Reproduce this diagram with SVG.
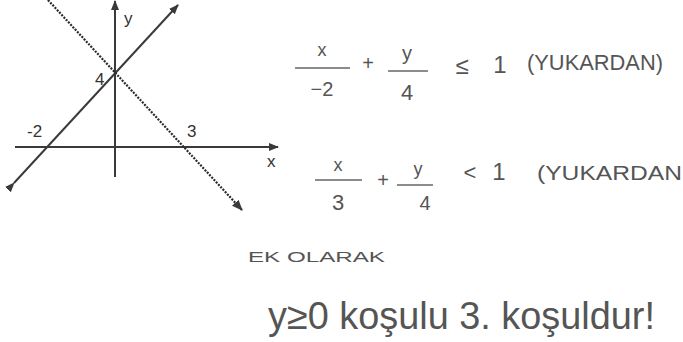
<svg xmlns="http://www.w3.org/2000/svg" width="683" height="342" viewBox="0 0 683 342">
<style>
.ax{stroke:#3a3a3a;stroke-width:2;fill:none}
.dot{stroke:#2a2a2a;stroke-width:2.2;fill:none;stroke-dasharray:2 1.3}
.lbl{font-family:"Liberation Sans",Arial,sans-serif;font-size:17px;fill:#333}
.hw{font-family:"Liberation Sans",Arial,sans-serif;fill:#555}
.fr{stroke:#666;stroke-width:1.6}
</style>
<defs>
<marker id="ah" viewBox="0 0 10 10" refX="9" refY="5" markerWidth="5" markerHeight="5" orient="auto" markerUnits="strokeWidth">
<path d="M0,1 L10,5 L0,9 Z" fill="#3a3a3a"/>
</marker>
</defs>
<rect width="683" height="342" fill="#fff"/>
<g id="graph">
<line class="ax" x1="15" y1="147" x2="278" y2="147" marker-end="url(#ah)"/>
<line class="ax" x1="115" y1="177" x2="115" y2="1" marker-end="url(#ah)"/>
<line class="ax" x1="14" y1="183" x2="178" y2="5" marker-start="url(#ah)" marker-end="url(#ah)"/>
<line class="dot" x1="48" y1="0" x2="242" y2="210" marker-start="url(#ah)" marker-end="url(#ah)"/>
<text class="lbl" x="124" y="24">y</text>
<text class="lbl" x="95" y="85">4</text>
<text class="lbl" x="27" y="137">-2</text>
<text class="lbl" x="187" y="137">3</text>
<text class="lbl" x="267" y="167">x</text>
</g>
<g id="eq1">
<text class="hw" x="322" y="56" font-size="18" text-anchor="middle">x</text>
<line class="fr" x1="295" y1="68" x2="350" y2="68"/>
<text class="hw" x="322" y="96" font-size="20" text-anchor="middle">−2</text>
<text class="hw" x="368" y="70" font-size="20" text-anchor="middle">+</text>
<text class="hw" x="407" y="60" font-size="20" text-anchor="middle">y</text>
<line class="fr" x1="388" y1="71" x2="428" y2="71"/>
<text class="hw" x="407" y="100" font-size="22" text-anchor="middle">4</text>
<text class="hw" x="462" y="74" font-size="24" text-anchor="middle">≤</text>
<text class="hw" x="500" y="73" font-size="24" text-anchor="middle">1</text>
<text class="hw" x="527" y="70" font-size="22" textLength="136" lengthAdjust="spacingAndGlyphs">(YUKARDAN)</text>
</g>
<g id="eq2">
<text class="hw" x="338" y="171" font-size="18" text-anchor="middle">x</text>
<line class="fr" x1="315" y1="180" x2="362" y2="180"/>
<text class="hw" x="338" y="210" font-size="22" text-anchor="middle">3</text>
<text class="hw" x="383" y="187" font-size="20" text-anchor="middle">+</text>
<text class="hw" x="418" y="175" font-size="18" text-anchor="middle">y</text>
<line class="fr" x1="397" y1="185" x2="433" y2="185"/>
<text class="hw" x="425" y="210" font-size="20" text-anchor="middle">4</text>
<text class="hw" x="470" y="180" font-size="22" text-anchor="middle">&lt;</text>
<text class="hw" x="499" y="180" font-size="24" text-anchor="middle">1</text>
<text class="hw" x="537" y="180" font-size="20" textLength="145" lengthAdjust="spacingAndGlyphs">(YUKARDAN</text>
</g>
<g id="note">
<text class="hw" x="248" y="262" font-size="14" textLength="137" lengthAdjust="spacingAndGlyphs">EK OLARAK</text>
<text class="hw" x="268" y="329" font-size="38" textLength="387" lengthAdjust="spacingAndGlyphs">y≥0 koşulu 3. koşuldur!</text>
</g>
</svg>
